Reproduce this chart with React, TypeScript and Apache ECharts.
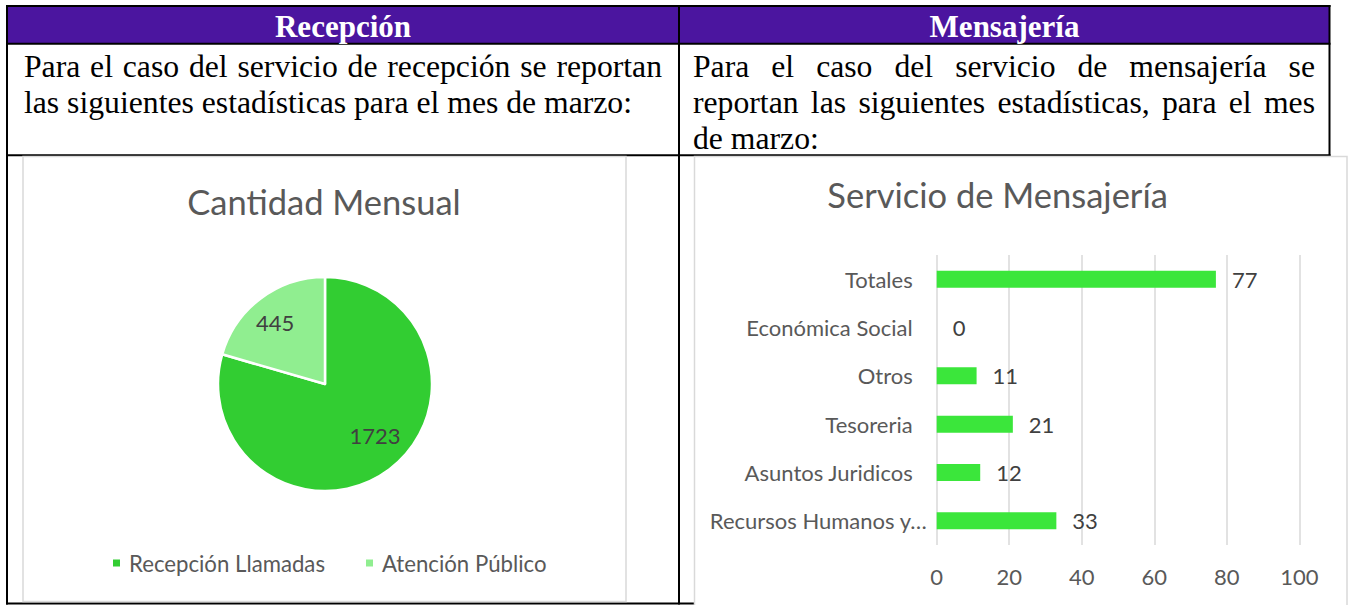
import React, { useEffect, useRef } from "react";
import * as echarts from "echarts";

// ---------- data ----------
const headerTitles = ["Recepción", "Mensajería"];
const leftLines = [
  "Para el caso del servicio de recepción se reportan",
  "las siguientes estadísticas para el mes de marzo:",
];
const rightLines = [
  "Para el caso del servicio de mensajería se",
  "reportan las siguientes estadísticas, para el mes",
  "de marzo:",
];

const pieTitle = "Cantidad Mensual";
const pieNames = ["Recepción Llamadas", "Atención Público"];
const pieValues = [1723, 445];

const barTitle = "Servicio de Mensajería";
const barCategories = [
  "Recursos Humanos y…",
  "Asuntos Juridicos",
  "Tesoreria",
  "Otros",
  "Económica Social",
  "Totales",
];
const barValues = [33, 12, 21, 11, 0, 77];
const xMin = 0;
const xMax = 100;
const xStep = 20;

// ---------- styles ----------
const pieColors = ["#32CD32", "#90EE90"];
const pieLabelOffsets = [
  [16, 6],
  [-16, -16],
];
const barColor = "#3BE63B";
const SANS = "Lato";
const SERIF = "'Liberation Serif'";
const PURPLE = "#4B159F";

function measure(text: string, font: string): number {
  const c = document.createElement("canvas");
  const ctx = c.getContext("2d");
  if (!ctx) return text.length * 14;
  ctx.font = font;
  return ctx.measureText(text).width;
}

function lineElements(
  text: string,
  x0: number,
  x1: number,
  y: number,
  justify: boolean,
  font: string
): any[] {
  if (!justify) {
    return [
      {
        type: "text",
        x: x0,
        y,
        z: -8,
        style: {
          text,
          font,
          fill: "#000",
          textAlign: "left",
          align: "left",
          textVerticalAlign: "middle",
          verticalAlign: "middle",
        },
      },
    ];
  }
  const words = text.split(" ");
  const widths = words.map((w) => measure(w, font));
  const total = widths.reduce((a, b) => a + b, 0);
  const gap = words.length > 1 ? (x1 - x0 - total) / (words.length - 1) : 0;
  let x = x0;
  return words.map((w, i) => {
    const el = {
      type: "text",
      x,
      y,
      z: -8,
      style: {
        text: w,
        font,
        fill: "#000",
        textAlign: "left",
        align: "left",
        textVerticalAlign: "middle",
        verticalAlign: "middle",
      },
    };
    x += widths[i] + gap;
    return el;
  });
}

function tableGraphics(): any[] {
  const els: any[] = [];
  const line = (x1: number, y1: number, x2: number, y2: number) => ({
    type: "line",
    z: -9,
    shape: { x1, y1, x2, y2 },
    style: { stroke: "#000", lineWidth: 2 },
  });
  // header background
  els.push({
    type: "rect",
    z: -10,
    shape: { x: 7, y: 6, width: 1322, height: 37.5 },
    style: { fill: PURPLE },
  });
  els.push(line(6, 6, 1330.5, 6));
  els.push(line(6, 43.7, 1330.5, 43.7));
  els.push(line(6, 155.2, 1330.5, 155.2));
  els.push(line(6, 603.5, 700, 603.5));
  els.push(line(7, 5, 7, 604.5));
  els.push(line(679, 5, 679, 604.5));
  els.push(line(1329.5, 5, 1329.5, 156));

  // header texts
  const headerFont = `bold 31px ${SERIF}`;
  [343, 1004.5].forEach((cx, i) => {
    els.push({
      type: "text",
      x: cx,
      y: 26,
      z: -8,
      style: {
        text: headerTitles[i],
        font: headerFont,
        fill: "#fff",
        textAlign: "center",
        align: "center",
        textVerticalAlign: "middle",
        verticalAlign: "middle",
      },
    });
  });

  // paragraphs
  const bodyFont = `31.7px ${SERIF}`;
  const lineYs = [66, 102, 138];
  leftLines.forEach((t, i) => {
    els.push(
      ...lineElements(t, 24, 662, lineYs[i], i < leftLines.length - 1, bodyFont)
    );
  });
  rightLines.forEach((t, i) => {
    els.push(
      ...lineElements(t, 693, 1315, lineYs[i], i < rightLines.length - 1, bodyFont)
    );
  });

  // chart frames
  els.push({
    type: "rect",
    z: -5,
    shape: { x: 23, y: 156.5, width: 603, height: 445 },
    style: { fill: "#fff", stroke: "#D9D9D9", lineWidth: 1.5 },
  });
  els.push({
    type: "rect",
    z: -5,
    shape: { x: 694.5, y: 156.5, width: 652.5, height: 460 },
    style: { fill: "#fff", stroke: "#D9D9D9", lineWidth: 1.5 },
  });
  return els;
}

export default function App() {
  const ref = useRef<HTMLDivElement>(null);

  useEffect(() => {
    if (!ref.current) return;
    const chart = echarts.init(ref.current, undefined, { renderer: "svg" });

    const option: any = {
      animation: false,
      backgroundColor: "#fff",
      title: [
        {
          text: pieTitle,
          left: 324,
          top: 201.5,
          padding: 0,
          textAlign: "center",
          textVerticalAlign: "middle",
          textStyle: {
            fontFamily: SANS,
            fontSize: 34.5,
            fontWeight: "normal",
            color: "#595959",
          },
        },
        {
          text: barTitle,
          left: 997.6,
          top: 194,
          padding: 0,
          textAlign: "center",
          textVerticalAlign: "middle",
          textStyle: {
            fontFamily: SANS,
            fontSize: 34.5,
            fontWeight: "normal",
            color: "#595959",
          },
        },
      ],
      legend: {
        data: pieNames,
        left: 111,
        top: 552,
        padding: 0,
        icon: "rect",
        itemWidth: 9,
        itemHeight: 9,
        itemGap: 39,
        selectedMode: false,
        textStyle: {
          fontFamily: SANS,
          fontSize: 22.2,
          color: "#595959",
          padding: [0, 0, 0, 3],
        },
      },
      grid: {
        left: 936.7,
        top: 255,
        width: 362.6,
        height: 290,
        containLabel: false,
        outerBoundsMode: "none",
      },
      xAxis: {
        type: "value",
        min: xMin,
        max: xMax,
        interval: xStep,
        axisLine: { show: false },
        axisTick: { show: false },
        splitLine: {
          show: true,
          lineStyle: { color: "#D9D9D9", width: 1.5 },
        },
        axisLabel: {
          fontFamily: SANS,
          fontSize: 22,
          color: "#595959",
          margin: 20,
        },
      },
      yAxis: {
        type: "category",
        data: barCategories.map((c, i) =>
          i === 0
            ? { value: c, textStyle: { padding: [0, -14, 0, 0] } }
            : c
        ),
        axisLine: { show: false },
        axisTick: { show: false },
        splitLine: { show: false },
        axisLabel: {
          fontFamily: SANS,
          fontSize: 22,
          color: "#595959",
          margin: 24,
        },
      },
      series: [
        {
          type: "pie",
          center: [325, 384],
          radius: 107,
          startAngle: 90,
          clockwise: true,
          silent: true,
          emphasis: { disabled: true },
          itemStyle: { borderColor: "#fff", borderWidth: 2.5 },
          label: {
            show: true,
            position: "inside",
            formatter: "{c}",
            fontFamily: SANS,
            fontSize: 22,
            color: "#404040",
          },
          labelLine: { show: false },
          data: pieValues.map((v, i) => ({
            value: v,
            name: pieNames[i],
            itemStyle: { color: pieColors[i] },
            label: { offset: pieLabelOffsets[i] },
          })),
        },
        {
          type: "bar",
          data: barValues,
          barWidth: 17,
          silent: true,
          itemStyle: { color: barColor },
          label: {
            show: true,
            position: "right",
            distance: 16,
            fontFamily: SANS,
            fontSize: 22,
            color: "#404040",
          },
        },
      ],
      graphic: { elements: tableGraphics() },
    };

    chart.setOption(option);
    return () => {
      chart.dispose();
    };
  }, []);

  return (
    <div
      ref={ref}
      style={{
        position: "absolute",
        left: 0,
        top: 0,
        width: 1348,
        height: 605,
        background: "#fff",
      }}
    />
  );
}
